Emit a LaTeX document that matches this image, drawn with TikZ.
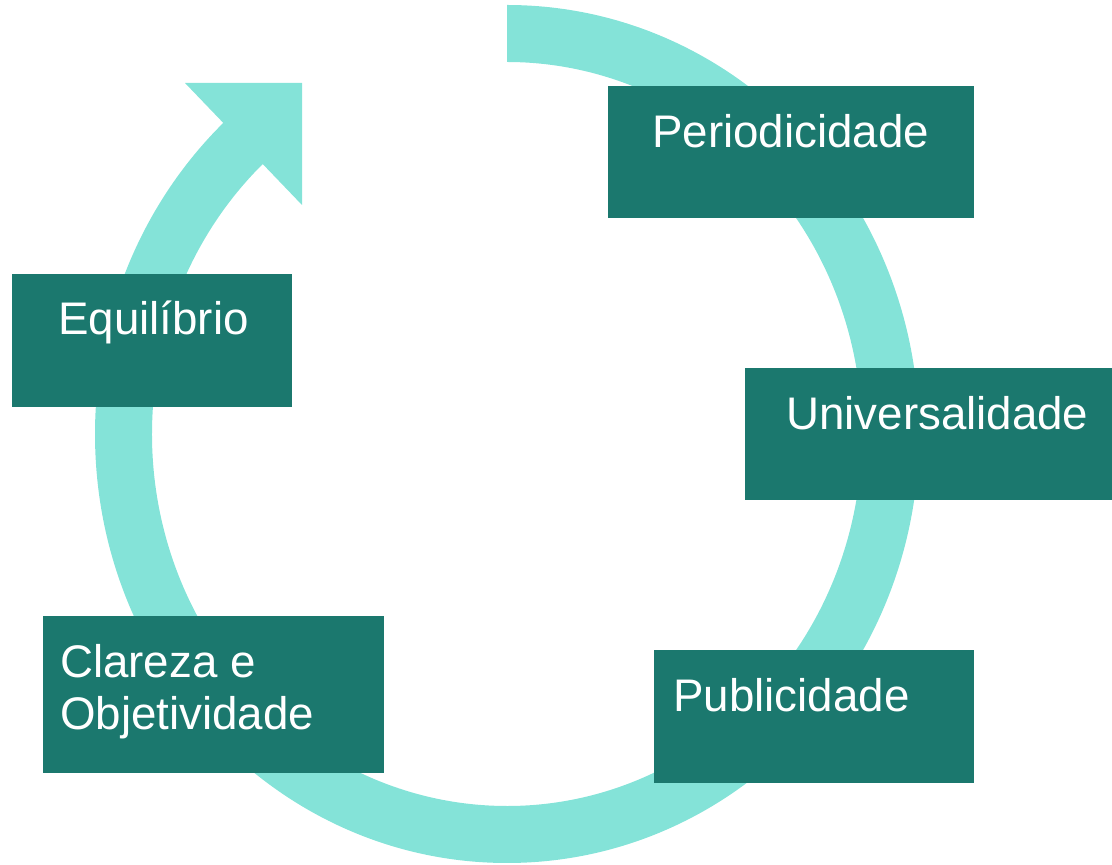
\documentclass[tikz,border=0pt]{standalone}
\usepackage{fontspec}
\setmainfont{Liberation Sans}
\definecolor{ringcol}{HTML}{84E3D8}
\definecolor{boxcol}{HTML}{1B786E}
\begin{document}
\begin{tikzpicture}[x=0.03cm, y=0.03cm, line join=round,
  box/.style={fill=boxcol, inner sep=0pt, anchor=north west},
  lbl/.style={text=white, inner sep=0pt, anchor=base west, align=left,
    font=\fontsize{39}{44.4}\selectfont}]
	\def\cx{507} \def\cy{431} % centro do anel
	\useasboundingbox (0,0) rectangle (1112,865);
	% anel com seta
	\fill[ringcol] (\cx,\cy+429) arc[start angle=90, end angle=-229, x radius=412, y radius=429]
		-- ([shift={(-229:355 and 372)}]\cx,\cy) arc[start angle=-229, end angle=90, x radius=355, y radius=372] -- cycle;
	\fill[ringcol] (185,782) -- (302,782) -- (302,660) -- cycle;
	% caixas
	\node[box, minimum width=10.98cm, minimum height=3.96cm] (peri) at (608,779) {};
	\node[box, minimum width=11.01cm, minimum height=3.96cm] (univ) at (745,497) {};
	\node[box, minimum width=9.6cm, minimum height=3.99cm] (publ) at (654,215) {};
	\node[box, minimum width=10.23cm, minimum height=4.71cm] (clar) at (43,249) {};
	\node[box, minimum width=8.4cm, minimum height=3.99cm] (equi) at (12,591) {};
	\node[lbl] (tperi) at ([shift={(44,-62)}]peri.north west) {Periodicidade};
	\node[lbl] (tuniv) at ([shift={(41,-62)}]univ.north west) {Universalidade};
	\node[lbl] (tpubl) at ([shift={(19,-62)}]publ.north west) {Publicidade};
	\node[lbl] (tclar) at ([shift={(17,-114)}]clar.north west) {Clareza e\\Objetividade};
	\node[lbl] (tequi) at ([shift={(46,-61)}]equi.north west) {Equilíbrio};
\end{tikzpicture}
\end{document}
